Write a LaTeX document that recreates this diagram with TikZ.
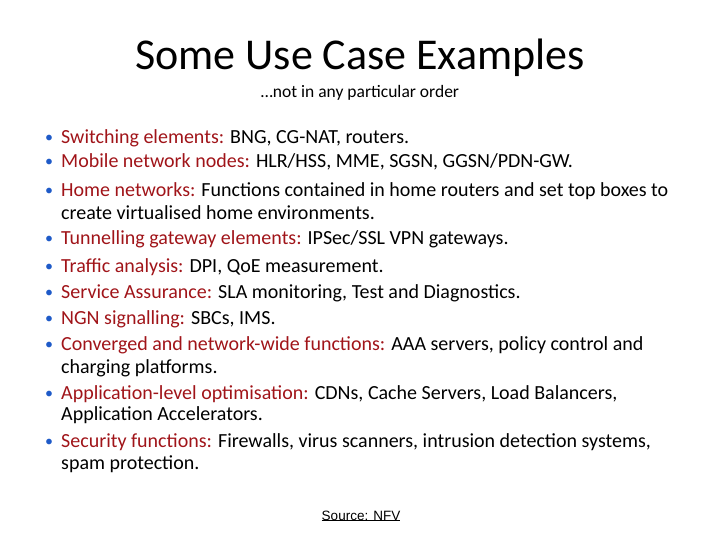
\documentclass[tikz,border=0pt]{standalone}
\usepackage{fontspec}
\setmainfont{Carlito}
\newfontfamily\arialf{Liberation Sans}
\definecolor{lab}{RGB}{160,20,25}
\definecolor{bul}{RGB}{30,90,200}
\begin{document}
\begin{tikzpicture}[x=1pt,y=-1pt,
  ln/.style={anchor=west,inner sep=0pt,font=\fontsize{20}{22}\selectfont},
  bl/.style={anchor=center,inner sep=0pt,text=bul,font=\fontsize{16}{20}\selectfont}]
\useasboundingbox (0,0) rectangle (720,540);
\node[font=\fontsize{44}{48}\selectfont] (title) at (360,58) {Some Use Case Examples};
\node[font=\fontsize{17.5}{20}\selectfont] (sub) at (360,93) {…not in any particular order};
\newcommand\bitem[4]{\node[bl] (b#1) at (49,#2) {•};\node[ln] (t#1) at (61,#2) {\strut\textcolor{lab}{#3}#4};}
\newcommand\citem[3]{\node[ln] (c#1) at (61,#2) {\strut #3};}
\bitem{1}{139}{Switching elements:}{ BNG, CG-NAT, routers.}
\bitem{2}{163}{Mobile network nodes:}{ HLR/HSS, MME, SGSN, GGSN/PDN-GW.}
\bitem{3}{192}{Home networks:}{ Functions contained in home routers and set top boxes to}
\citem{3}{215}{create virtualised home environments.}
\bitem{4}{240}{Tunnelling gateway elements:}{ IPSec/SSL VPN gateways.}
\bitem{5}{268}{Traffic analysis:}{ DPI, QoE measurement.}
\bitem{6}{294}{Service Assurance:}{ SLA monitoring, Test and Diagnostics.}
\bitem{7}{320}{NGN signalling:}{ SBCs, IMS.}
\bitem{8}{346}{Converged and network-wide functions:}{ AAA servers, policy control and}
\citem{8}{369}{charging platforms.}
\bitem{9}{395}{Application-level optimisation:}{ CDNs, Cache Servers, Load Balancers,}
\citem{9}{416}{Application Accelerators.}
\bitem{10}{443}{Security functions:}{ Firewalls, virus scanners, intrusion detection systems,}
\citem{10}{465}{spam protection.}
\node[font=\arialf\fontsize{13.5}{15}\selectfont,inner sep=0pt] (src) at (361,516) {Source: NFV};
\draw[line width=0.6pt] ([yshift=0.5pt]src.south west) -- ([yshift=0.5pt]src.south east);
\end{tikzpicture}
\end{document}
